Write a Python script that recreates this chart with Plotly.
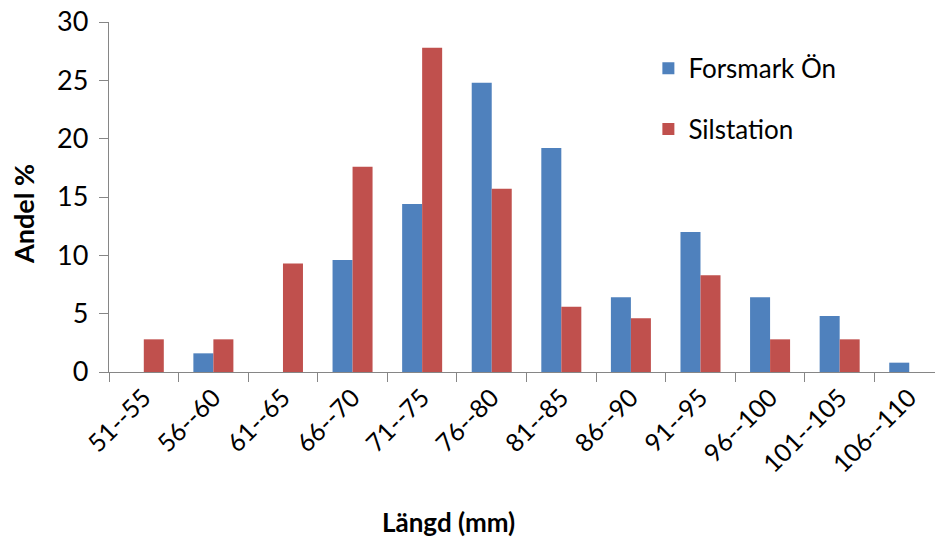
import plotly.graph_objects as go

categories = ["51--55", "56--60", "61--65", "66--70", "71--75", "76--80",
              "81--85", "86--90", "91--95", "96--100", "101--105", "106--110"]
forsmark_on = [0, 1.6, 0, 9.6, 14.4, 24.8, 19.2, 6.4, 12.0, 6.4, 4.8, 0.8]
silstation = [2.8, 2.8, 9.3, 17.6, 27.8, 15.7, 5.6, 4.6, 8.3, 2.8, 2.8, 0]
y_ticks = [0, 5, 10, 15, 20, 25, 30]

FONT = "Lato, 'Open Sans', sans-serif"
AXIS_GREY = "#868686"

fig = go.Figure()
fig.add_trace(go.Bar(
    x=categories, y=forsmark_on, name="Forsmark Ön",
    marker=dict(color="#4F81BD", line=dict(width=0)),
    legendgroup="a",
))
fig.add_trace(go.Bar(
    x=categories, y=silstation, name="Silstation",
    marker=dict(color="#C0504D", line=dict(width=0)),
    legendgroup="b",
))

fig.update_layout(
    width=935, height=541,
    margin=dict(l=109, r=0, t=22, b=169),
    paper_bgcolor="white", plot_bgcolor="white",
    barmode="group", bargap=0.425, bargroupgap=0,
    font=dict(family=FONT, color="#000000", size=20),
    showlegend=True,
    legend=dict(
        x=0.653, y=0.935, xanchor="left", yanchor="top",
        font=dict(size=26, family=FONT, color="#000000"),
        traceorder="grouped", tracegroupgap=24,
        bgcolor="rgba(0,0,0,0)",
    ),
    xaxis=dict(
        type="category",
        range=[-0.5, 11.37],
        showline=True, linecolor=AXIS_GREY, linewidth=1.3,
        ticks="outside", tickson="boundaries", ticklen=9,
        tickcolor=AXIS_GREY, tickwidth=1.3,
        tickangle=-45, tickfont=dict(size=25, family=FONT),
        showgrid=False, zeroline=False,
    ),
    yaxis=dict(
        range=[0, 30], tickvals=y_ticks,
        showline=True, linecolor=AXIS_GREY, linewidth=1.3,
        ticks="outside", ticklen=9, tickcolor=AXIS_GREY, tickwidth=1.3,
        tickfont=dict(size=27, family=FONT), ticklabelstandoff=5,
        showgrid=False, zeroline=False,
    ),
    annotations=[
        dict(text="<b>Längd (mm)</b>", xref="paper", yref="paper",
             x=(448 - 109) / 826, y=-(522 - 372) / 350,
             xanchor="center", yanchor="middle", showarrow=False,
             font=dict(size=26, family=FONT)),
        dict(text="<b>Andel %</b>", xref="paper", yref="paper",
             x=-(109 - 23) / 826, y=(372 - 214) / 350,
             xanchor="center", yanchor="middle", showarrow=False,
             textangle=-90, font=dict(size=27, family=FONT)),
    ],
)

fig.write_html("out.html")
